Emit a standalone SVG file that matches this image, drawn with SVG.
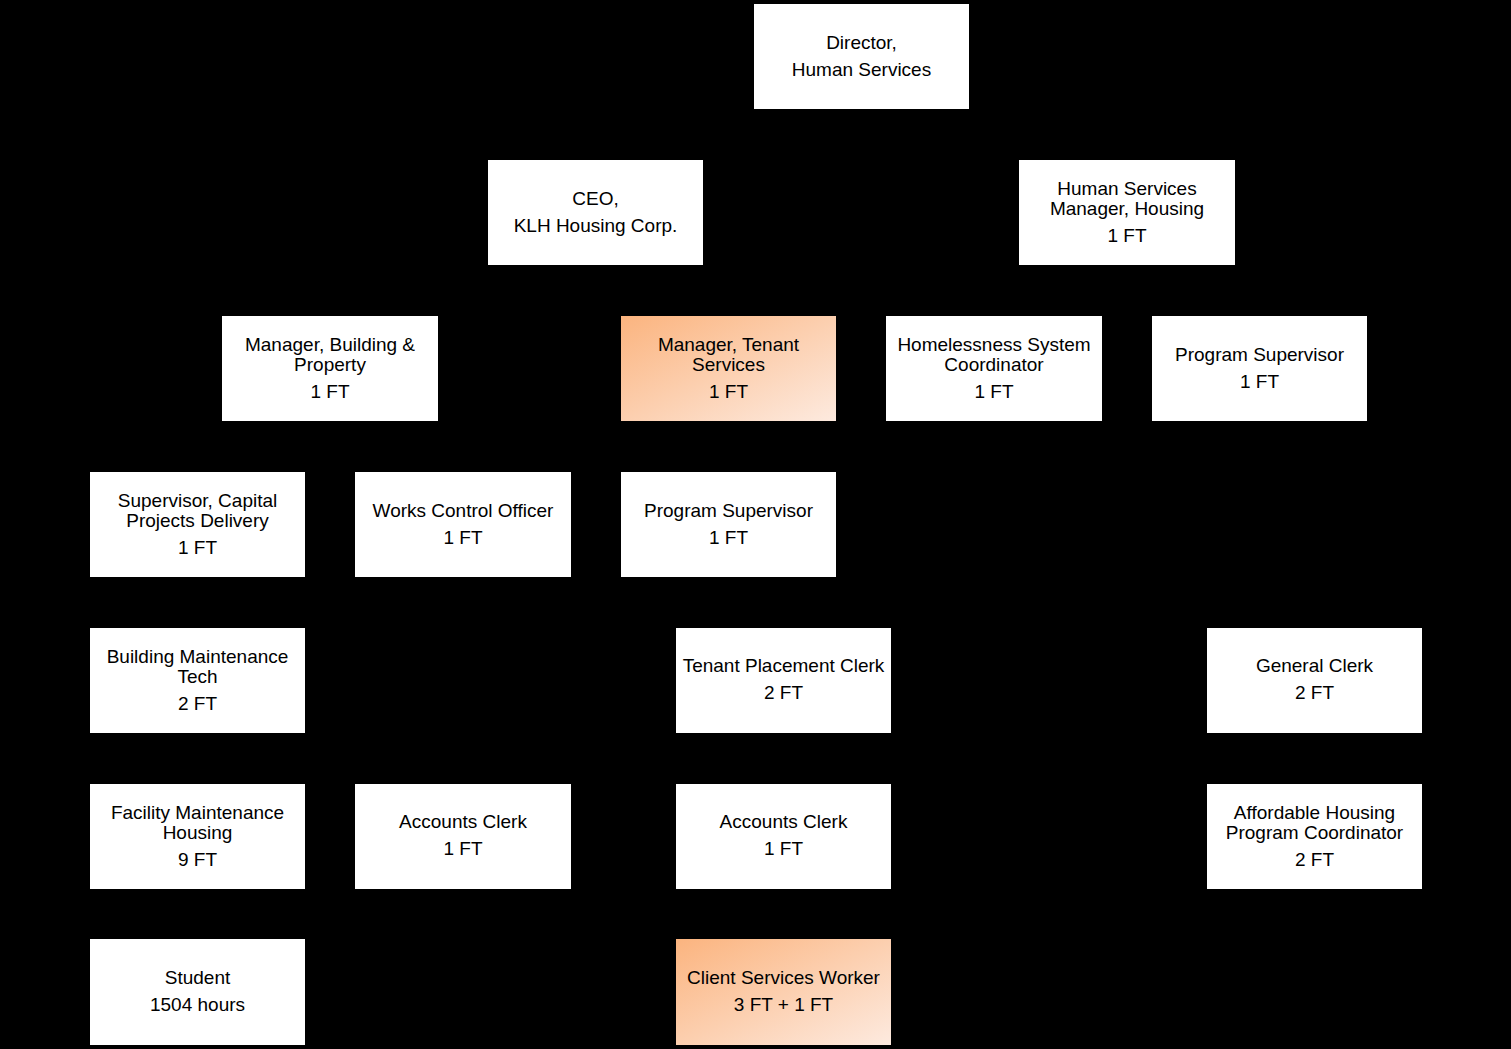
<svg xmlns="http://www.w3.org/2000/svg" width="1511" height="1049" viewBox="0 0 1511 1049">
<defs>
<linearGradient id="og" x1="0" y1="0" x2="1" y2="1">
<stop offset="0" stop-color="#FBB47F"/>
<stop offset="1" stop-color="#FDEADF"/>
</linearGradient>
<style>
.b{fill:#FFFFFF;stroke:none}
.o{fill:url(#og);stroke:none}
text{font-family:"Liberation Sans",Arial,sans-serif;font-size:19px;fill:#000;text-anchor:middle}
.c{fill:none;stroke:#000;stroke-width:1}
</style>
</defs>
<rect x="0" y="0" width="1511" height="1049" fill="#000"/>
<g id="connectors">
<path class="c" d="M861,109 V135 M595,135 H1127 M595,135 V160 M1127,135 V160"/>
<path class="c" d="M595,265 V291 M330,291 H728 M330,291 V316 M728,291 V316"/>
<path class="c" d="M1127,265 V291 M994,291 H1259 M994,291 V316 M1259,291 V316"/>
<path class="c" d="M330,421 V447 M197,447 H463 M197,447 V472 M463,447 V472"/>
<path class="c" d="M728,421 V472"/>
<path class="c" d="M197,577 V628 M197,733 V784 M197,889 V939"/>
<path class="c" d="M463,577 V784"/>
<path class="c" d="M728,577 V603 H783 V628 M783,733 V784 M783,889 V939"/>
<path class="c" d="M1259,421 V603 H1314 V628 M1314,733 V784"/>
</g>
<g id="n-director"><rect class="b" x="754" y="4" width="215" height="105"/><text x="861.5" y="49">Director,</text><text x="861.5" y="76">Human Services</text></g>
<g id="n-ceo"><rect class="b" x="488" y="160" width="215" height="105"/><text x="595.5" y="205">CEO,</text><text x="595.5" y="232">KLH Housing Corp.</text></g>
<g id="n-hsm"><rect class="b" x="1019" y="160" width="216" height="105"/><text x="1127" y="195">Human Services</text><text x="1127" y="215">Manager, Housing</text><text x="1127" y="242">1 FT</text></g>
<g id="n-mbp"><rect class="b" x="222" y="316" width="216" height="105"/><text x="330" y="351">Manager, Building &amp;</text><text x="330" y="371">Property</text><text x="330" y="398">1 FT</text></g>
<g id="n-mts"><rect class="o" x="621" y="316" width="215" height="105"/><text x="728.5" y="350.5">Manager, Tenant</text><text x="728.5" y="370.5">Services</text><text x="728.5" y="397.5">1 FT</text></g>
<g id="n-hsc"><rect class="b" x="886" y="316" width="216" height="105"/><text x="994" y="351">Homelessness System</text><text x="994" y="371">Coordinator</text><text x="994" y="398">1 FT</text></g>
<g id="n-ps1"><rect class="b" x="1152" y="316" width="215" height="105"/><text x="1259.5" y="361">Program Supervisor</text><text x="1259.5" y="388">1 FT</text></g>
<g id="n-scpd"><rect class="b" x="90" y="472" width="215" height="105"/><text x="197.5" y="507">Supervisor, Capital</text><text x="197.5" y="527">Projects Delivery</text><text x="197.5" y="554">1 FT</text></g>
<g id="n-wco"><rect class="b" x="355" y="472" width="216" height="105"/><text x="463" y="517">Works Control Officer</text><text x="463" y="544">1 FT</text></g>
<g id="n-ps2"><rect class="b" x="621" y="472" width="215" height="105"/><text x="728.5" y="517">Program Supervisor</text><text x="728.5" y="544">1 FT</text></g>
<g id="n-bmt"><rect class="b" x="90" y="628" width="215" height="105"/><text x="197.5" y="663">Building Maintenance</text><text x="197.5" y="683">Tech</text><text x="197.5" y="710">2 FT</text></g>
<g id="n-tpc"><rect class="b" x="676" y="628" width="215" height="105"/><text x="783.5" y="672">Tenant Placement Clerk</text><text x="783.5" y="699">2 FT</text></g>
<g id="n-gc"><rect class="b" x="1207" y="628" width="215" height="105"/><text x="1314.5" y="672">General Clerk</text><text x="1314.5" y="699">2 FT</text></g>
<g id="n-fmh"><rect class="b" x="90" y="784" width="215" height="105"/><text x="197.5" y="819">Facility Maintenance</text><text x="197.5" y="839">Housing</text><text x="197.5" y="866">9 FT</text></g>
<g id="n-ac1"><rect class="b" x="355" y="784" width="216" height="105"/><text x="463" y="828">Accounts Clerk</text><text x="463" y="855">1 FT</text></g>
<g id="n-ac2"><rect class="b" x="676" y="784" width="215" height="105"/><text x="783.5" y="828">Accounts Clerk</text><text x="783.5" y="855">1 FT</text></g>
<g id="n-ahpc"><rect class="b" x="1207" y="784" width="215" height="105"/><text x="1314.5" y="819">Affordable Housing</text><text x="1314.5" y="839">Program Coordinator</text><text x="1314.5" y="866">2 FT</text></g>
<g id="n-student"><rect class="b" x="90" y="939" width="215" height="106"/><text x="197.5" y="984">Student</text><text x="197.5" y="1011">1504 hours</text></g>
<g id="n-csw"><rect class="o" x="676" y="939" width="215" height="106"/><text x="783.5" y="984">Client Services Worker</text><text x="783.5" y="1011">3 FT + 1 FT</text></g>
</svg>
